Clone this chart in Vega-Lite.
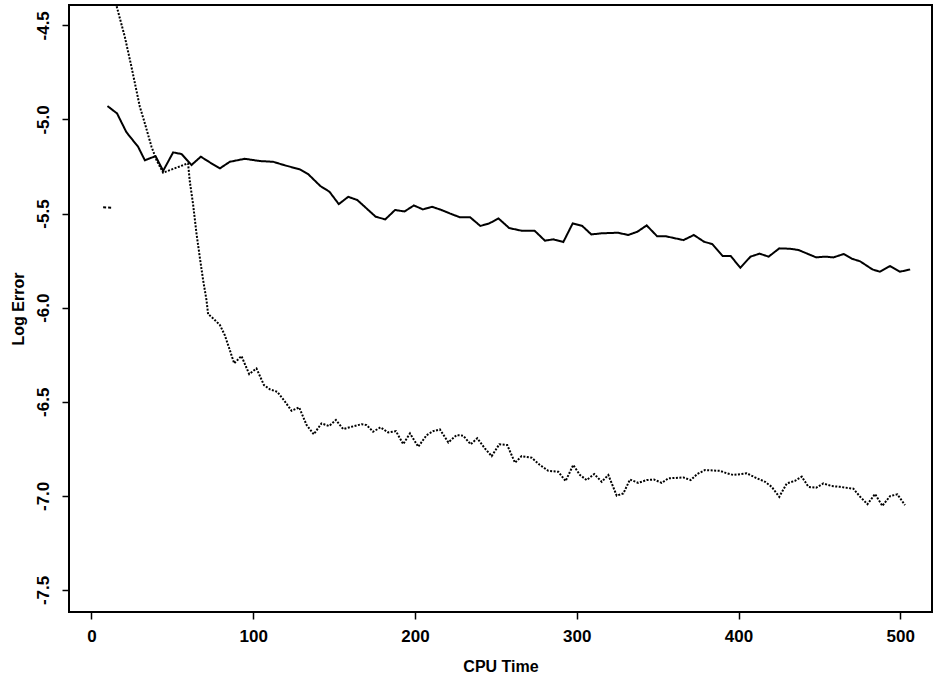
{
  "$schema": "https://vega.github.io/schema/vega-lite/v6.json",
  "width": 863,
  "height": 607,
  "autosize": {"type": "none"},
  "padding": {"left": 69, "top": 5, "right": 7, "bottom": 70},
  "background": "white",
  "config": {
    "view": {"stroke": "black", "strokeWidth": 2},
    "font": "Liberation Sans",
    "axis": {
      "domain": false,
      "grid": false,
      "tickColor": "black",
      "tickWidth": 1.5,
      "tickSize": 7,
      "labelColor": "black",
      "titleColor": "black",
      "labelFont": "Liberation Sans",
      "titleFont": "Liberation Sans",
      "labelFontSize": 17,
      "labelFontWeight": "bold",
      "titleFontSize": 16,
      "titleFontWeight": "bold"
    }
  },
  "data": {
    "values": [
      {"t": 9.9, "err": -4.929, "series": "solid"},
      {"t": 15.8, "err": -4.968, "series": "solid"},
      {"t": 21.6, "err": -5.068, "series": "solid"},
      {"t": 28.8, "err": -5.145, "series": "solid"},
      {"t": 33.0, "err": -5.217, "series": "solid"},
      {"t": 39.6, "err": -5.195, "series": "solid"},
      {"t": 44.3, "err": -5.273, "series": "solid"},
      {"t": 50.5, "err": -5.175, "series": "solid"},
      {"t": 55.7, "err": -5.184, "series": "solid"},
      {"t": 61.8, "err": -5.242, "series": "solid"},
      {"t": 67.6, "err": -5.198, "series": "solid"},
      {"t": 73.5, "err": -5.230, "series": "solid"},
      {"t": 79.4, "err": -5.260, "series": "solid"},
      {"t": 85.5, "err": -5.225, "series": "solid"},
      {"t": 94.8, "err": -5.209, "series": "solid"},
      {"t": 104.0, "err": -5.221, "series": "solid"},
      {"t": 112.3, "err": -5.225, "series": "solid"},
      {"t": 120.0, "err": -5.245, "series": "solid"},
      {"t": 128.8, "err": -5.265, "series": "solid"},
      {"t": 133.9, "err": -5.290, "series": "solid"},
      {"t": 141.5, "err": -5.354, "series": "solid"},
      {"t": 147.1, "err": -5.384, "series": "solid"},
      {"t": 152.9, "err": -5.450, "series": "solid"},
      {"t": 158.7, "err": -5.411, "series": "solid"},
      {"t": 164.3, "err": -5.428, "series": "solid"},
      {"t": 170.7, "err": -5.478, "series": "solid"},
      {"t": 175.7, "err": -5.517, "series": "solid"},
      {"t": 181.6, "err": -5.531, "series": "solid"},
      {"t": 187.7, "err": -5.481, "series": "solid"},
      {"t": 193.5, "err": -5.489, "series": "solid"},
      {"t": 199.3, "err": -5.457, "series": "solid"},
      {"t": 204.9, "err": -5.478, "series": "solid"},
      {"t": 210.5, "err": -5.464, "series": "solid"},
      {"t": 216.3, "err": -5.481, "series": "solid"},
      {"t": 221.4, "err": -5.499, "series": "solid"},
      {"t": 227.8, "err": -5.520, "series": "solid"},
      {"t": 234.1, "err": -5.520, "series": "solid"},
      {"t": 240.4, "err": -5.566, "series": "solid"},
      {"t": 246.0, "err": -5.552, "series": "solid"},
      {"t": 251.6, "err": -5.526, "series": "solid"},
      {"t": 258.2, "err": -5.577, "series": "solid"},
      {"t": 265.8, "err": -5.591, "series": "solid"},
      {"t": 273.9, "err": -5.591, "series": "solid"},
      {"t": 280.3, "err": -5.644, "series": "solid"},
      {"t": 285.6, "err": -5.637, "series": "solid"},
      {"t": 291.7, "err": -5.651, "series": "solid"},
      {"t": 297.5, "err": -5.552, "series": "solid"},
      {"t": 303.4, "err": -5.566, "series": "solid"},
      {"t": 309.0, "err": -5.611, "series": "solid"},
      {"t": 315.3, "err": -5.605, "series": "solid"},
      {"t": 325.5, "err": -5.602, "series": "solid"},
      {"t": 331.8, "err": -5.614, "series": "solid"},
      {"t": 337.4, "err": -5.597, "series": "solid"},
      {"t": 343.2, "err": -5.563, "series": "solid"},
      {"t": 349.6, "err": -5.620, "series": "solid"},
      {"t": 354.6, "err": -5.620, "series": "solid"},
      {"t": 366.0, "err": -5.641, "series": "solid"},
      {"t": 372.4, "err": -5.614, "series": "solid"},
      {"t": 378.7, "err": -5.650, "series": "solid"},
      {"t": 383.8, "err": -5.662, "series": "solid"},
      {"t": 390.2, "err": -5.726, "series": "solid"},
      {"t": 395.2, "err": -5.726, "series": "solid"},
      {"t": 401.1, "err": -5.788, "series": "solid"},
      {"t": 407.4, "err": -5.729, "series": "solid"},
      {"t": 413.0, "err": -5.713, "series": "solid"},
      {"t": 418.6, "err": -5.729, "series": "solid"},
      {"t": 425.2, "err": -5.685, "series": "solid"},
      {"t": 432.0, "err": -5.687, "series": "solid"},
      {"t": 437.1, "err": -5.694, "series": "solid"},
      {"t": 442.2, "err": -5.712, "series": "solid"},
      {"t": 448.0, "err": -5.733, "series": "solid"},
      {"t": 453.6, "err": -5.729, "series": "solid"},
      {"t": 458.7, "err": -5.733, "series": "solid"},
      {"t": 465.0, "err": -5.715, "series": "solid"},
      {"t": 470.1, "err": -5.740, "series": "solid"},
      {"t": 475.2, "err": -5.754, "series": "solid"},
      {"t": 482.8, "err": -5.797, "series": "solid"},
      {"t": 487.3, "err": -5.809, "series": "solid"},
      {"t": 493.7, "err": -5.779, "series": "solid"},
      {"t": 499.8, "err": -5.809, "series": "solid"},
      {"t": 506.1, "err": -5.797, "series": "solid"},

      {"t": 10.0, "err": -4.20, "series": "dotted"},
      {"t": 15.5, "err": -4.397, "series": "dotted"},
      {"t": 20.6, "err": -4.561, "series": "dotted"},
      {"t": 24.7, "err": -4.720, "series": "dotted"},
      {"t": 29.9, "err": -4.933, "series": "dotted"},
      {"t": 33.0, "err": -5.021, "series": "dotted"},
      {"t": 37.1, "err": -5.145, "series": "dotted"},
      {"t": 40.2, "err": -5.216, "series": "dotted"},
      {"t": 44.3, "err": -5.283, "series": "dotted"},
      {"t": 59.7, "err": -5.233, "series": "dotted"},
      {"t": 60.8, "err": -5.331, "series": "dotted"},
      {"t": 62.8, "err": -5.450, "series": "dotted"},
      {"t": 64.9, "err": -5.605, "series": "dotted"},
      {"t": 67.0, "err": -5.735, "series": "dotted"},
      {"t": 69.0, "err": -5.853, "series": "dotted"},
      {"t": 71.1, "err": -5.960, "series": "dotted"},
      {"t": 72.1, "err": -6.034, "series": "dotted"},
      {"t": 75.2, "err": -6.057, "series": "dotted"},
      {"t": 79.4, "err": -6.092, "series": "dotted"},
      {"t": 82.4, "err": -6.146, "series": "dotted"},
      {"t": 85.5, "err": -6.225, "series": "dotted"},
      {"t": 88.2, "err": -6.296, "series": "dotted"},
      {"t": 92.7, "err": -6.257, "series": "dotted"},
      {"t": 97.5, "err": -6.353, "series": "dotted"},
      {"t": 102.0, "err": -6.323, "series": "dotted"},
      {"t": 106.6, "err": -6.411, "series": "dotted"},
      {"t": 110.3, "err": -6.434, "series": "dotted"},
      {"t": 114.8, "err": -6.447, "series": "dotted"},
      {"t": 118.9, "err": -6.491, "series": "dotted"},
      {"t": 123.7, "err": -6.548, "series": "dotted"},
      {"t": 128.4, "err": -6.530, "series": "dotted"},
      {"t": 133.0, "err": -6.624, "series": "dotted"},
      {"t": 137.4, "err": -6.673, "series": "dotted"},
      {"t": 142.2, "err": -6.615, "series": "dotted"},
      {"t": 146.9, "err": -6.629, "series": "dotted"},
      {"t": 151.1, "err": -6.597, "series": "dotted"},
      {"t": 155.6, "err": -6.645, "series": "dotted"},
      {"t": 160.8, "err": -6.633, "series": "dotted"},
      {"t": 167.0, "err": -6.619, "series": "dotted"},
      {"t": 170.1, "err": -6.624, "series": "dotted"},
      {"t": 174.1, "err": -6.659, "series": "dotted"},
      {"t": 178.7, "err": -6.636, "series": "dotted"},
      {"t": 183.4, "err": -6.663, "series": "dotted"},
      {"t": 188.2, "err": -6.656, "series": "dotted"},
      {"t": 192.7, "err": -6.725, "series": "dotted"},
      {"t": 196.9, "err": -6.668, "series": "dotted"},
      {"t": 202.0, "err": -6.739, "series": "dotted"},
      {"t": 207.2, "err": -6.677, "series": "dotted"},
      {"t": 211.3, "err": -6.656, "series": "dotted"},
      {"t": 215.4, "err": -6.647, "series": "dotted"},
      {"t": 220.6, "err": -6.716, "series": "dotted"},
      {"t": 225.7, "err": -6.677, "series": "dotted"},
      {"t": 229.8, "err": -6.680, "series": "dotted"},
      {"t": 234.4, "err": -6.726, "series": "dotted"},
      {"t": 238.5, "err": -6.694, "series": "dotted"},
      {"t": 243.2, "err": -6.748, "series": "dotted"},
      {"t": 247.4, "err": -6.789, "series": "dotted"},
      {"t": 252.1, "err": -6.726, "series": "dotted"},
      {"t": 257.0, "err": -6.730, "series": "dotted"},
      {"t": 261.8, "err": -6.824, "series": "dotted"},
      {"t": 265.9, "err": -6.789, "series": "dotted"},
      {"t": 272.1, "err": -6.797, "series": "dotted"},
      {"t": 277.2, "err": -6.836, "series": "dotted"},
      {"t": 282.4, "err": -6.867, "series": "dotted"},
      {"t": 288.6, "err": -6.872, "series": "dotted"},
      {"t": 293.1, "err": -6.921, "series": "dotted"},
      {"t": 297.8, "err": -6.836, "series": "dotted"},
      {"t": 302.0, "err": -6.889, "series": "dotted"},
      {"t": 306.1, "err": -6.916, "series": "dotted"},
      {"t": 310.8, "err": -6.884, "series": "dotted"},
      {"t": 315.4, "err": -6.925, "series": "dotted"},
      {"t": 319.5, "err": -6.889, "series": "dotted"},
      {"t": 324.7, "err": -6.999, "series": "dotted"},
      {"t": 328.8, "err": -6.987, "series": "dotted"},
      {"t": 332.9, "err": -6.913, "series": "dotted"},
      {"t": 338.0, "err": -6.931, "series": "dotted"},
      {"t": 343.2, "err": -6.916, "series": "dotted"},
      {"t": 347.7, "err": -6.913, "series": "dotted"},
      {"t": 352.5, "err": -6.931, "series": "dotted"},
      {"t": 356.6, "err": -6.907, "series": "dotted"},
      {"t": 365.9, "err": -6.902, "series": "dotted"},
      {"t": 370.4, "err": -6.916, "series": "dotted"},
      {"t": 374.5, "err": -6.884, "series": "dotted"},
      {"t": 379.3, "err": -6.863, "series": "dotted"},
      {"t": 388.6, "err": -6.867, "series": "dotted"},
      {"t": 392.7, "err": -6.880, "series": "dotted"},
      {"t": 396.8, "err": -6.889, "series": "dotted"},
      {"t": 405.1, "err": -6.880, "series": "dotted"},
      {"t": 410.2, "err": -6.902, "series": "dotted"},
      {"t": 416.4, "err": -6.925, "series": "dotted"},
      {"t": 420.5, "err": -6.952, "series": "dotted"},
      {"t": 425.2, "err": -7.005, "series": "dotted"},
      {"t": 429.8, "err": -6.934, "series": "dotted"},
      {"t": 434.9, "err": -6.920, "series": "dotted"},
      {"t": 439.1, "err": -6.898, "series": "dotted"},
      {"t": 443.2, "err": -6.952, "series": "dotted"},
      {"t": 447.9, "err": -6.957, "series": "dotted"},
      {"t": 452.4, "err": -6.934, "series": "dotted"},
      {"t": 457.6, "err": -6.948, "series": "dotted"},
      {"t": 462.8, "err": -6.952, "series": "dotted"},
      {"t": 471.0, "err": -6.962, "series": "dotted"},
      {"t": 475.2, "err": -7.005, "series": "dotted"},
      {"t": 479.7, "err": -7.044, "series": "dotted"},
      {"t": 484.4, "err": -6.990, "series": "dotted"},
      {"t": 488.9, "err": -7.053, "series": "dotted"},
      {"t": 493.7, "err": -7.001, "series": "dotted"},
      {"t": 498.2, "err": -6.992, "series": "dotted"},
      {"t": 502.9, "err": -7.049, "series": "dotted"},

      {"t": 7.2, "err": -5.467, "series": "mark"},
      {"t": 12.4, "err": -5.469, "series": "mark"}
    ]
  },
  "mark": {"type": "line", "clip": true, "color": "black", "strokeWidth": 2},
  "encoding": {
    "x": {
      "field": "t",
      "type": "quantitative",
      "scale": {"domain": [-13.9, 519.6], "nice": false, "zero": false},
      "axis": {
        "values": [0, 100, 200, 300, 400, 500],
        "title": "CPU Time",
        "labelPadding": 9,
        "titlePadding": 14,
        "labelFlush": false
      }
    },
    "y": {
      "field": "err",
      "type": "quantitative",
      "scale": {"domain": [-7.617, -4.392], "nice": false, "zero": false},
      "axis": {
        "values": [-7.5, -7.0, -6.5, -6.0, -5.5, -5.0, -4.5],
        "labelExpr": "(datum.value < 0 ? '-' : '') + format(abs(datum.value), '.1f')",
        "title": "Log Error",
        "labelAngle": -90,
        "labelAlign": "center",
        "labelBaseline": "alphabetic",
        "labelPadding": 14,
        "labelFlush": false,
        "titlePadding": 8
      }
    },
    "detail": {"field": "series"},
    "strokeDash": {
      "field": "series",
      "type": "nominal",
      "scale": {"domain": ["solid", "dotted", "mark"], "range": [[1, 0], [2, 1.5], [3, 2]]},
      "legend": null
    }
  }
}
